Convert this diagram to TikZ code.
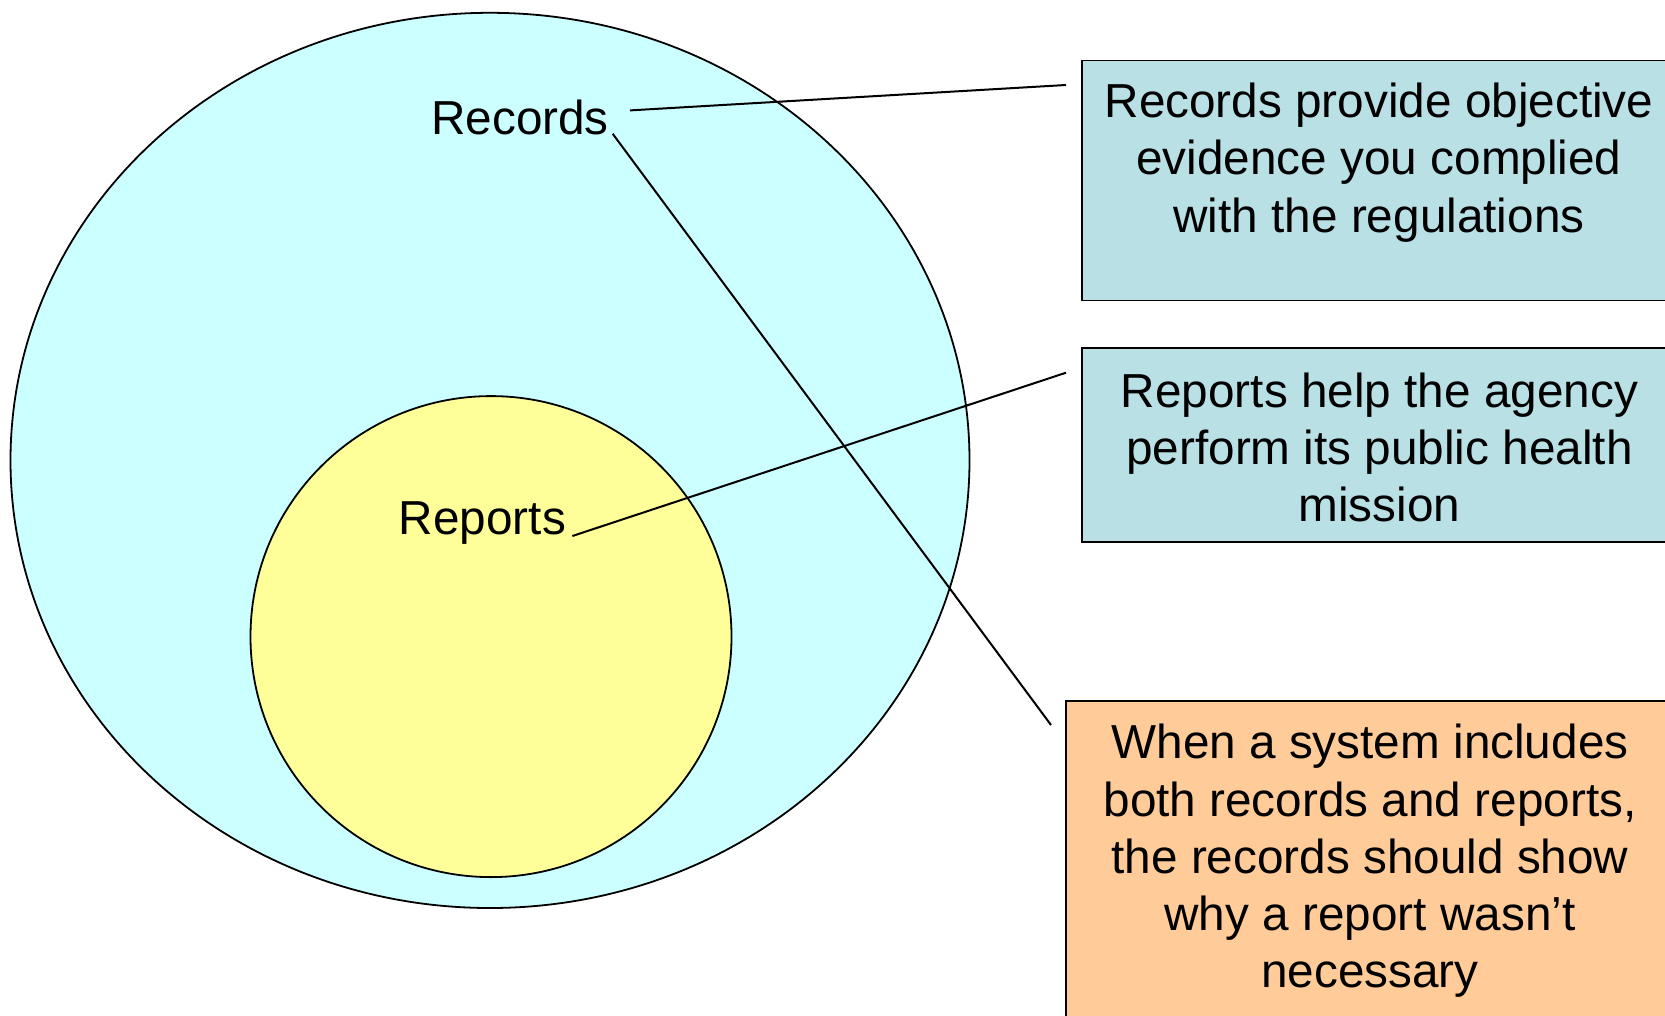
\documentclass[tikz,border=0pt]{standalone}
\usepackage{fontspec}
\setmainfont{Liberation Sans}
\definecolor{outercyan}{HTML}{CCFFFF}
\definecolor{inneryellow}{HTML}{FFFF99}
\definecolor{boxblue}{HTML}{B9E0E4}
\definecolor{boxorange}{HTML}{FFCC99}
\begin{document}
\begin{tikzpicture}[x=1pt,y=-1pt,
  outline/.style={draw=black,line width=1.8pt},
  conn/.style={draw=black,line width=2pt},
  lbl/.style={inner sep=0pt,font=\fontsize{47.7}{57.2}\selectfont},
  boxtext/.style={inner sep=0pt,align=center,font=\fontsize{47.7}{57.2}\selectfont}]
\useasboundingbox (0,0) rectangle (1665,1016);
\begin{scope}
\clip (0,0) rectangle (1665,1016);
\path[outline,fill=outercyan] (490,460.4) ellipse [x radius=479.5, y radius=447.6];
\path[outline,fill=inneryellow] (491,636.6) circle [radius=240.5];
\path[outline,fill=boxblue] (1082,60.5) rectangle (1700,300.5);
\path[outline,fill=boxblue] (1082,348.3) rectangle (1700,541.6);
\path[outline,fill=boxorange] (1066,700.9) rectangle (1700,1050);
\end{scope}
\node[lbl] (records) at (520,117) {Records};
\node[lbl] (reports) at (482.5,523) {Reports};
\node[boxtext] (t1) at (1379,162.5) {Records provide objective\\evidence you complied\\with the regulations};
\node[boxtext] (t2) at (1379.5,447.5) {Reports help the agency\\perform its public health\\mission};
\node[boxtext] (t3) at (1370,861) {When a system includes\\both records and reports,\\the records should show\\why a report wasn’t\\necessary};
\coordinate (r1) at (630,110.4);
\coordinate (r2) at (612.7,133.8);
\coordinate (p1) at (572.4,536);
\coordinate (e1) at (1066,85);
\coordinate (e2) at (1066,372.7);
\coordinate (e3) at (1051,725);
\draw[conn] (r1) -- (e1);
\draw[conn] (r2) -- (e3);
\draw[conn] (p1) -- (e2);
\end{tikzpicture}
\end{document}
